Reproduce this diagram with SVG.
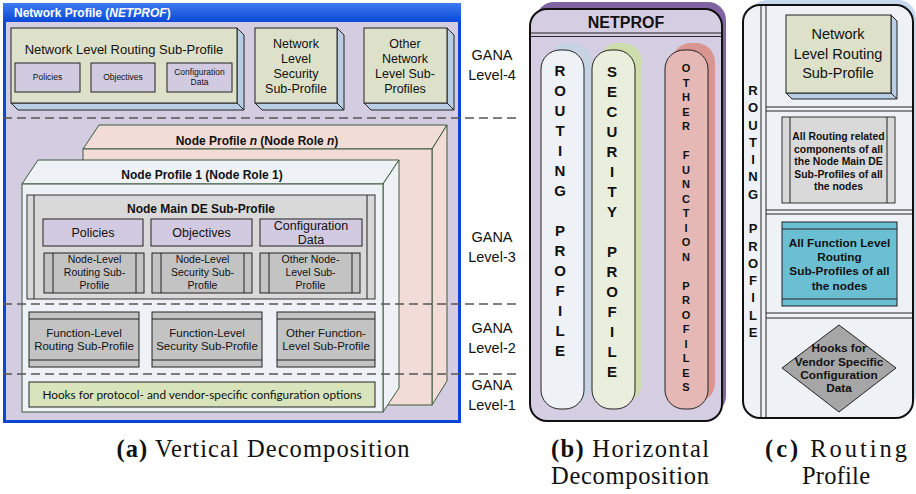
<svg xmlns="http://www.w3.org/2000/svg" width="916" height="494" viewBox="0 0 916 494">
  <defs>
    <linearGradient id="titleBar" x1="0" y1="0" x2="0" y2="1">
      <stop offset="0" stop-color="#3d7bf0"/>
      <stop offset="1" stop-color="#0a48d8"/>
    </linearGradient>
  </defs>
  <style>
    text { font-family: "Liberation Sans", Arial, sans-serif; fill: #111; }
    .c { text-anchor: middle; }
    .b { font-weight: bold; }
    .ln { stroke: #222; stroke-width: 1; }
    .olive { fill: #dde1c9; stroke: #222; stroke-width: 1; }
    .side { fill: #b9cde5; stroke: #222; stroke-width: 1; }
    .lav { fill: #d2cae0; stroke: #222; stroke-width: 1; }
    .gray { fill: #c3c3c3; stroke: #222; stroke-width: 1; }
    .lgray { fill: #d9d9d9; stroke: #333; stroke-width: 1; }
    .dash { stroke: #555; stroke-width: 1.4; stroke-dasharray: 9 5; fill: none; }
    .gana { font-size: 14.5px; }
    .lt { font-size: 15px; font-weight: bold; }
    .lts { font-size: 11px; font-weight: bold; }
    .cap { font-family: "Liberation Serif", "Times New Roman", serif; font-size: 24.5px; }
  </style>

  <!-- (a) vertical decomposition -->
  <g id="netprof-frame">
    <rect x="3" y="3" width="458" height="420" fill="#0a46d6"/>
    <rect x="3" y="3" width="458" height="19" fill="url(#titleBar)"/>
    <rect x="6" y="22" width="452" height="398" fill="#d4cce1"/>
    <text x="14" y="17" class="b" style="fill:#fff;font-size:12px">Network Profile (<tspan font-style="italic">NETPROF</tspan>)</text>
  </g>

  <g id="net-routing">
    <polygon class="side" points="237,28 244,35 244,110 237,103"/>
    <polygon class="side" points="11,103 18,110 244,110 237,103"/>
    <rect class="olive" x="11" y="28" width="226" height="75"/>
    <text x="124" y="54" class="c" style="font-size:13px">Network Level Routing Sub-Profile</text>
    <rect class="lav" x="15" y="63" width="65" height="29"/>
    <text x="47.5" y="80" class="c" style="font-size:8.5px">Policies</text>
    <rect class="lav" x="91" y="63" width="64" height="29"/>
    <text x="123" y="80" class="c" style="font-size:8.5px">Objectives</text>
    <rect class="lav" x="167" y="63" width="65" height="29"/>
    <text x="199.5" y="75" class="c" style="font-size:8.5px">Configuration</text>
    <text x="199.5" y="85" class="c" style="font-size:8.5px">Data</text>
  </g>

  <g id="net-security">
    <polygon class="side" points="337,28 344,35 344,110 337,103"/>
    <polygon class="side" points="255,103 262,110 344,110 337,103"/>
    <rect class="olive" x="255" y="28" width="82" height="75"/>
    <text x="296" y="48" class="c" style="font-size:12.5px">Network</text>
    <text x="296" y="63" class="c" style="font-size:12.5px">Level</text>
    <text x="296" y="78" class="c" style="font-size:12.5px">Security</text>
    <text x="296" y="93" class="c" style="font-size:12.5px">Sub-Profile</text>
  </g>

  <g id="net-other">
    <polygon class="side" points="447,28 454,35 454,110 447,103"/>
    <polygon class="side" points="364,103 371,110 454,110 447,103"/>
    <rect class="olive" x="364" y="28" width="83" height="75"/>
    <text x="405" y="48" class="c" style="font-size:12.5px">Other</text>
    <text x="405" y="63" class="c" style="font-size:12.5px">Network</text>
    <text x="405" y="78" class="c" style="font-size:12.5px">Level Sub-</text>
    <text x="405" y="93" class="c" style="font-size:12.5px">Profiles</text>
  </g>

  <g id="node-profile-n">
    <polygon points="83,149 99,125 447,125 432,149" fill="#f2dcd8" stroke="#3c5a3c" stroke-width="1"/>
    <polygon points="432,149 447,125 447,381 432,405" fill="#f2dcd8" stroke="#3c5a3c" stroke-width="1"/>
    <rect x="83" y="149" width="349" height="256" fill="#f2dcd8" stroke="#3c5a3c" stroke-width="1"/>
    <text x="257" y="145" class="c b" style="font-size:12px">Node Profile <tspan font-style="italic">n</tspan> (Node Role <tspan font-style="italic">n</tspan>)</text>
  </g>

  <g id="node-profile-1">
    <polygon points="22,184 38,160 399,160 383,184" fill="#eef2f6" stroke="#3c5a3c" stroke-width="1"/>
    <polygon points="383,184 399,160 399,388 383,412" fill="#eef2f6" stroke="#3c5a3c" stroke-width="1"/>
    <rect x="22" y="184" width="361" height="228" fill="#eef2f6" stroke="#3c5a3c" stroke-width="1"/>
    <text x="202" y="179" class="c b" style="font-size:12px">Node Profile 1 (Node Role 1)</text>
  </g>

  <g id="node-main-de">
    <rect class="lgray" x="27" y="195" width="348" height="104"/>
    <line class="ln" x1="34" y1="195" x2="34" y2="299"/>
    <line class="ln" x1="367" y1="195" x2="367" y2="299"/>
    <text x="201" y="213" class="c b" style="font-size:12px">Node Main DE Sub-Profile</text>
    <rect class="lav" x="43" y="219" width="100" height="27"/>
    <text x="93" y="237" class="c" style="font-size:12.5px">Policies</text>
    <rect class="lav" x="151" y="219" width="101" height="27"/>
    <text x="201.5" y="237" class="c" style="font-size:12.5px">Objectives</text>
    <rect class="lav" x="260" y="219" width="102" height="27"/>
    <text x="311" y="230" class="c" style="font-size:12.5px">Configuration</text>
    <text x="311" y="244" class="c" style="font-size:12.5px">Data</text>
  </g>

  <g id="node-level-routing">
    <rect class="gray" x="44" y="253" width="100" height="40"/>
    <line class="ln" x1="53" y1="253" x2="53" y2="293"/>
    <line class="ln" x1="136" y1="253" x2="136" y2="293"/>
    <text x="94.5" y="263" class="c" style="font-size:10.5px">Node-Level</text>
    <text x="94.5" y="276" class="c" style="font-size:10.5px">Routing  Sub-</text>
    <text x="94.5" y="289" class="c" style="font-size:10.5px">Profile</text>
  </g>
  <g id="node-level-security">
    <rect class="gray" x="152" y="253" width="100" height="40"/>
    <line class="ln" x1="161" y1="253" x2="161" y2="293"/>
    <line class="ln" x1="244" y1="253" x2="244" y2="293"/>
    <text x="202.5" y="263" class="c" style="font-size:10.5px">Node-Level</text>
    <text x="202.5" y="276" class="c" style="font-size:10.5px">Security Sub-</text>
    <text x="202.5" y="289" class="c" style="font-size:10.5px">Profile</text>
  </g>
  <g id="node-level-other">
    <rect class="gray" x="260" y="253" width="100" height="40"/>
    <line class="ln" x1="269" y1="253" x2="269" y2="293"/>
    <line class="ln" x1="352" y1="253" x2="352" y2="293"/>
    <text x="310.5" y="263" class="c" style="font-size:10.5px">Other Node-</text>
    <text x="310.5" y="276" class="c" style="font-size:10.5px">Level Sub-</text>
    <text x="310.5" y="289" class="c" style="font-size:10.5px">Profile</text>
  </g>

  <g id="function-level-routing">
    <rect class="gray" x="29" y="312" width="110" height="55"/>
    <line class="ln" x1="29" y1="319" x2="139" y2="319"/>
    <line class="ln" x1="29" y1="360" x2="139" y2="360"/>
    <text x="84" y="337" class="c" style="font-size:11.5px">Function-Level</text>
    <text x="84" y="350" class="c" style="font-size:11.5px">Routing Sub-Profile</text>
  </g>
  <g id="function-level-security">
    <rect class="gray" x="152" y="312" width="110" height="55"/>
    <line class="ln" x1="152" y1="319" x2="262" y2="319"/>
    <line class="ln" x1="152" y1="360" x2="262" y2="360"/>
    <text x="207" y="337" class="c" style="font-size:11.5px">Function-Level</text>
    <text x="207" y="350" class="c" style="font-size:11.5px">Security Sub-Profile</text>
  </g>
  <g id="function-level-other">
    <rect class="gray" x="277" y="312" width="98" height="55"/>
    <line class="ln" x1="277" y1="319" x2="375" y2="319"/>
    <line class="ln" x1="277" y1="360" x2="375" y2="360"/>
    <text x="326" y="337" class="c" style="font-size:11.5px">Other Function-</text>
    <text x="326" y="350" class="c" style="font-size:11.5px">Level Sub-Profile</text>
  </g>

  <g id="hooks">
    <rect x="29" y="382" width="346" height="25" fill="#d7e4bc" stroke="#222" stroke-width="1"/>
    <text x="202" y="398.5" class="c" style="font-family:Lato,'Open Sans',sans-serif;font-size:11.8px">Hooks for protocol- and vendor-specific configuration options</text>
  </g>

  <!-- GANA level boundaries -->
  <g id="levels">
    <line class="dash" x1="3" y1="118" x2="519" y2="118"/>
    <line class="dash" x1="3" y1="304" x2="519" y2="304"/>
    <line class="dash" x1="3" y1="374" x2="519" y2="374"/>
    <text x="492" y="60" class="c gana">GANA</text>
    <text x="492" y="80" class="c gana">Level-4</text>
    <text x="492" y="242" class="c gana">GANA</text>
    <text x="492" y="262" class="c gana">Level-3</text>
    <text x="492" y="333" class="c gana">GANA</text>
    <text x="492" y="353" class="c gana">Level-2</text>
    <text x="492" y="390" class="c gana">GANA</text>
    <text x="492" y="410" class="c gana">Level-1</text>
  </g>

  <!-- (b) horizontal decomposition -->
  <g id="netprof-horizontal">
    <rect x="536" y="2" width="190" height="412" rx="18" fill="#8064a2"/>
    <rect x="530" y="9" width="192" height="412" rx="17" fill="#d5cde2" stroke="#111" stroke-width="2"/>
    <line x1="531" y1="33" x2="721" y2="33" stroke="#222" stroke-width="1"/>
    <line x1="531" y1="36.5" x2="721" y2="36.5" stroke="#222" stroke-width="1"/>
    <text x="626" y="28" class="c b" style="font-size:16px">NETPROF</text>
  </g>

  <g id="routing-profile-col">
    <rect x="549" y="43" width="43" height="359" rx="19" fill="#c5d3e3"/>
    <rect x="541" y="50" width="43" height="359" rx="19" fill="#eef1f6" stroke="#222" stroke-width="1"/>
    <g class="lt" text-anchor="middle">
      <text x="560" y="76">R</text><text x="560" y="96">O</text><text x="560" y="116">U</text>
      <text x="560" y="136">T</text><text x="560" y="156">I</text><text x="560" y="176">N</text>
      <text x="560" y="196">G</text>
      <text x="560" y="236">P</text><text x="560" y="256">R</text><text x="560" y="276">O</text>
      <text x="560" y="296">F</text><text x="560" y="316">I</text><text x="560" y="336">L</text>
      <text x="560" y="356">E</text>
    </g>
  </g>

  <g id="security-profile-col">
    <rect x="599" y="43" width="43" height="359" rx="19" fill="#cddcaa"/>
    <rect x="592" y="50" width="43" height="359" rx="19" fill="#eaeedd" stroke="#222" stroke-width="1"/>
    <g class="lt" text-anchor="middle">
      <text x="612" y="77">S</text><text x="612" y="97">E</text><text x="612" y="117">C</text>
      <text x="612" y="137">U</text><text x="612" y="157">R</text><text x="612" y="177">I</text>
      <text x="612" y="197">T</text><text x="612" y="217">Y</text>
      <text x="612" y="257">P</text><text x="612" y="277">R</text><text x="612" y="297">O</text>
      <text x="612" y="317">F</text><text x="612" y="337">I</text><text x="612" y="357">L</text>
      <text x="612" y="377">E</text>
    </g>
  </g>

  <g id="other-profiles-col">
    <rect x="672" y="43" width="43" height="359" rx="19" fill="#d9958f"/>
    <rect x="665" y="50" width="43" height="359" rx="19" fill="#e6b8b5" stroke="#222" stroke-width="1"/>
    <g class="lts" text-anchor="middle">
      <text x="686" y="72">O</text><text x="686" y="86.5">T</text><text x="686" y="101">H</text>
      <text x="686" y="115.5">E</text><text x="686" y="130">R</text>
      <text x="686" y="159">F</text><text x="686" y="173.5">U</text><text x="686" y="188">N</text>
      <text x="686" y="202.5">C</text><text x="686" y="217">T</text><text x="686" y="231.5">I</text>
      <text x="686" y="246">O</text><text x="686" y="260.5">N</text>
      <text x="686" y="289.5">P</text><text x="686" y="304">R</text><text x="686" y="318.5">O</text>
      <text x="686" y="333">F</text><text x="686" y="347.5">I</text><text x="686" y="362">L</text>
      <text x="686" y="376.5">E</text><text x="686" y="391">S</text>
    </g>
  </g>

  <!-- (c) routing profile -->
  <g id="routing-profile">
    <rect x="749" y="0" width="167" height="412" rx="18" fill="#c6d9ee"/>
    <rect x="743" y="5" width="170" height="413" rx="17" fill="#eef1f6" stroke="#111" stroke-width="2"/>
    <line x1="761" y1="6" x2="761" y2="417" stroke="#222" stroke-width="1"/>
    <line x1="766" y1="6" x2="766" y2="417" stroke="#222" stroke-width="1"/>
    <g stroke="#222" stroke-width="1">
      <line x1="766" y1="107" x2="912" y2="107"/><line x1="766" y1="111" x2="912" y2="111"/>
      <line x1="766" y1="210" x2="912" y2="210"/><line x1="766" y1="214" x2="912" y2="214"/>
      <line x1="766" y1="313" x2="912" y2="313"/><line x1="766" y1="318" x2="912" y2="318"/>
    </g>
    <g text-anchor="middle" style="font-size:13px;font-weight:bold">
      <text x="753" y="95">R</text><text x="753" y="112">O</text><text x="753" y="129.5">U</text>
      <text x="753" y="146.5">T</text><text x="753" y="164">I</text><text x="753" y="181">N</text>
      <text x="753" y="198.5">G</text>
      <text x="753" y="233">P</text><text x="753" y="250.5">R</text><text x="753" y="267.5">O</text>
      <text x="753" y="285">F</text><text x="753" y="302">I</text><text x="753" y="319.5">L</text>
      <text x="753" y="336.5">E</text>
    </g>
  </g>

  <g id="rp-network-routing">
    <polygon class="side" points="891,15 897,21 897,99 891,93"/>
    <polygon class="side" points="786,93 792,99 897,99 891,93"/>
    <rect class="olive" x="786" y="15" width="105" height="78"/>
    <text x="838" y="39" class="c" style="font-size:14.5px">Network</text>
    <text x="838" y="59" class="c" style="font-size:14.5px">Level Routing</text>
    <text x="838" y="78" class="c" style="font-size:14.5px">Sub-Profile</text>
  </g>

  <g id="rp-node-main">
    <rect class="lgray" x="782" y="117" width="113" height="86"/>
    <line class="ln" x1="790" y1="117" x2="790" y2="203"/>
    <line class="ln" x1="887" y1="117" x2="887" y2="203"/>
    <g class="b" text-anchor="middle" style="font-size:10.4px">
      <text x="838.5" y="140">All Routing related</text>
      <text x="838.5" y="152.5">components of all</text>
      <text x="838.5" y="165">the Node Main DE</text>
      <text x="838.5" y="177.5">Sub-Profiles of all</text>
      <text x="838.5" y="189.5">the nodes</text>
    </g>
  </g>

  <g id="rp-function-level">
    <rect x="782" y="222" width="115" height="84" fill="#6bbfd3" stroke="#222" stroke-width="1"/>
    <line class="ln" x1="782" y1="229" x2="897" y2="229"/>
    <line class="ln" x1="782" y1="299" x2="897" y2="299"/>
    <g class="b" text-anchor="middle" style="font-size:11.8px">
      <text x="839.5" y="247">All Function Level</text>
      <text x="839.5" y="261">Routing</text>
      <text x="839.5" y="275">Sub-Profiles of all</text>
      <text x="839.5" y="290">the nodes</text>
    </g>
  </g>

  <g id="rp-hooks">
    <polygon points="839,325 896,368 839,412 782,368" fill="#a6a6a6" stroke="#222" stroke-width="1"/>
    <g class="b" text-anchor="middle" style="font-size:11.8px">
      <text x="839" y="352">Hooks for</text>
      <text x="839" y="366">Vendor Specific</text>
      <text x="839" y="379">Configuration</text>
      <text x="839" y="392">Data</text>
    </g>
  </g>

  <!-- sub-figure captions -->
  <g id="captions">
    <text x="263" y="457" class="c cap" textLength="293" lengthAdjust="spacing"><tspan font-weight="bold">(a)</tspan> Vertical Decomposition</text>
    <text x="630" y="457" class="c cap" textLength="158" lengthAdjust="spacing"><tspan font-weight="bold">(b)</tspan> Horizontal</text>
    <text x="630" y="484" class="c cap" textLength="158" lengthAdjust="spacing">Decomposition</text>
    <text x="836" y="457" class="c cap" textLength="142" lengthAdjust="spacing"><tspan font-weight="bold">(c)</tspan> Routing</text>
    <text x="836" y="484" class="c cap" textLength="68" lengthAdjust="spacing">Profile</text>
  </g>
</svg>
